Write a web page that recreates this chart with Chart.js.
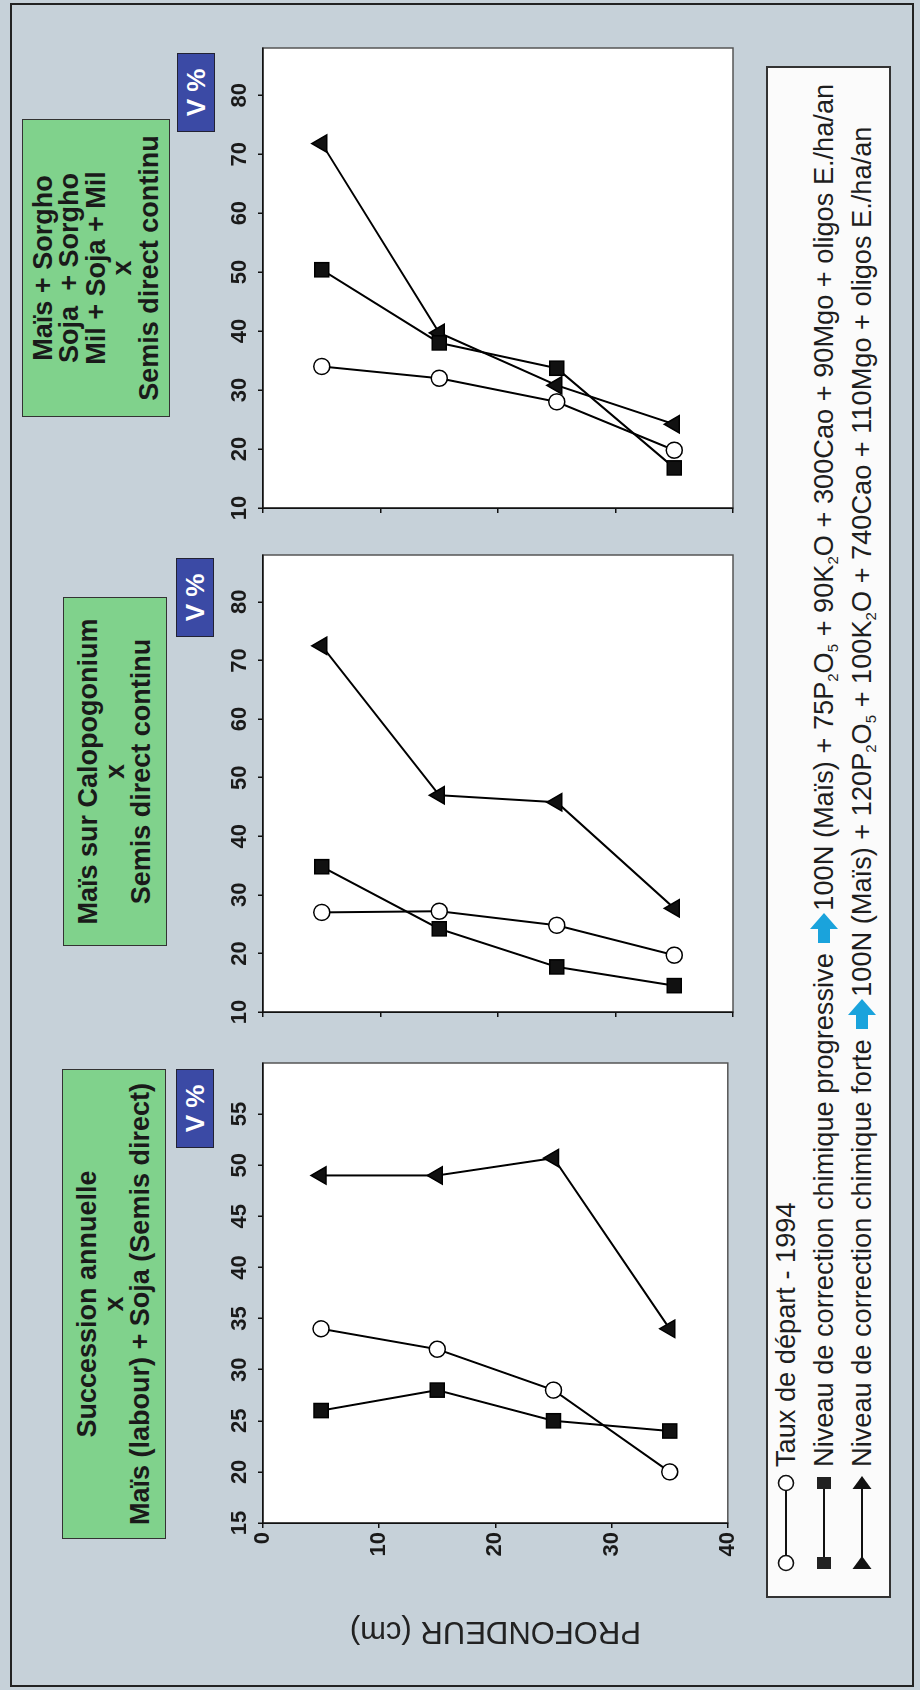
<!DOCTYPE html>
<html>
<head>
<meta charset="utf-8">
<script src="https://cdn.jsdelivr.net/npm/chart.js@4.4.1/dist/chart.umd.min.js"></script>
<style>
  html, body { margin: 0; padding: 0; background: #c6d1d9; }
  body { width: 920px; height: 1690px; overflow: hidden; position: relative;
         font-family: "Liberation Sans", Arial, sans-serif; }
  /* the figure is laid out in landscape and turned a quarter turn counter-clockwise */
  #sheet { position: absolute; left: 0; top: 0; width: 1690px; height: 920px;
           transform-origin: 0 0; transform: translateY(1690px) rotate(-90deg); }
  .frame { position: absolute; left: 3px; top: 10px; width: 1684px; height: 904px;
           box-sizing: border-box; border: 2px solid #222; }
  .title-box { position: absolute; box-sizing: border-box; background: #80d28c;
               border: 1.5px solid #333; display: flex; align-items: center; justify-content: center;
               text-align: center; font-weight: bold; font-size: 27px; line-height: 26.5px;
               color: #1a1a1a; white-space: pre; }
  .v-box { position: absolute; box-sizing: border-box; background: #3b4aa5; border: 1px solid #223;
           color: #fff; font-weight: bold; font-size: 26px; display: flex; align-items: center;
           justify-content: center; }
  canvas { position: absolute; }
  .legend { position: absolute; box-sizing: border-box; background: #fbfbfb; border: 2px solid #333; }
  .lg-row { position: absolute; left: 0; height: 36px; width: 100%; }
  .lg-row svg.sym { position: absolute; left: 23px; top: 0; }
  .lg-text { position: absolute; left: 129px; top: 0; height: 36px; line-height: 36px;
             font-size: 27.2px; color: #1e1e1e; white-space: nowrap; }
  .lg-text sub { font-size: 15px; vertical-align: -5px; line-height: 0; }
  .arrow { vertical-align: -6px; margin: 0 2px 0 3px; }
</style>
</head>
<body>
<div id="sheet">
  <div class="frame"></div>

  <div class="title-box" style="left:151px;top:62px;width:470px;height:104px">Succession annuelle
x
Maïs (labour) + Soja (Semis direct)</div>
  <div class="title-box" style="left:744px;top:63px;width:349px;height:104px">Maïs sur Calopogonium
x
Semis direct continu</div>
  <div class="title-box" style="left:1273px;top:22px;width:298px;height:148px">Maïs + Sorgho
Soja  + Sorgho
Mil + Soja + Mil
x
Semis direct continu</div>

  <div class="v-box" style="left:542px;top:176px;width:79px;height:38px">V %</div>
  <div class="v-box" style="left:1053px;top:176px;width:79px;height:38px">V %</div>
  <div class="v-box" style="left:1558px;top:177px;width:79px;height:38px">V %</div>

  <canvas id="c1"></canvas>
  <canvas id="c2"></canvas>
  <canvas id="c3"></canvas>

  <div class="legend" id="legend" style="left:92px;top:766px;width:1532px;height:125px"></div>
</div>

<script>
// Depth of each soil layer sampled (cm)
const depthCm = [5, 15, 25, 35];
const depthTicks = [0, 10, 20, 30, 40];

const seriesNames = [
  'Taux de départ - 1994',
  'Niveau de correction chimique progressive',
  'Niveau de correction chimique forte'
];
const doseProgressive = '100N (Maïs) + 75P<sub>2</sub>O<sub>5</sub> + 90K<sub>2</sub>O + 300Cao + 90Mgo + oligos E./ha/an';
const doseForte = '100N (Maïs) + 120P<sub>2</sub>O<sub>5</sub> + 100K<sub>2</sub>O + 740Cao + 110Mgo + oligos E./ha/an';

// V % – Succession annuelle x Maïs (labour) + Soja (Semis direct)
const succDepart      = [34, 32, 28, 20];
const succProgressive = [26, 28, 25, 24];
const succForte       = [49, 49, 50.7, 34];
const vTicksSucc      = [15, 20, 25, 30, 35, 40, 45, 50, 55];

// V % – Maïs sur Calopogonium x Semis direct continu
const caloDepart      = [27, 27.2, 24.8, 19.7];
const caloProgressive = [34.8, 24.2, 17.7, 14.5];
const caloForte       = [72.5, 47, 45.8, 27.7];

// V % – Maïs + Sorgho / Soja + Sorgho / Mil + Soja + Mil x Semis direct continu
const sorgDepart      = [34, 32, 28, 19.8];
const sorgProgressive = [50.4, 38, 33.7, 16.8];
const sorgForte       = [71.8, 39.7, 30.8, 24.2];
const vTicksOther     = [10, 20, 30, 40, 50, 60, 70, 80];

const FONT = '"Liberation Sans", Arial, sans-serif';

// white plotting area with a thin outline
const plotFrame = {
  id: 'plotFrame',
  beforeDraw(chart) {
    const a = chart.chartArea, ctx = chart.ctx;
    ctx.save();
    ctx.fillStyle = '#ffffff';
    ctx.fillRect(a.left, a.top, a.right - a.left, a.bottom - a.top);
    ctx.strokeStyle = '#555';
    ctx.lineWidth = 1.5;
    ctx.strokeRect(a.left, a.top, a.right - a.left, a.bottom - a.top);
    ctx.restore();
  }
};

function series(values, style) {
  const base = {
    data: depthCm.map((d, i) => ({ x: values[i], y: d })),
    showLine: true,
    borderColor: '#000',
    borderWidth: 2,
    pointBorderColor: '#000',
    pointBorderWidth: 1.5
  };
  if (style === 'circle') return Object.assign(base, { pointStyle: 'circle', pointRadius: 8, pointBackgroundColor: '#fff' });
  if (style === 'rect') return Object.assign(base, { pointStyle: 'rect', pointRadius: 10, pointBackgroundColor: '#111' });
  return Object.assign(base, { pointStyle: 'triangle', pointRadius: 10, pointBackgroundColor: '#111' });
}

function buildChart(id, plotLeft, plotRight, vals, vMin, vMax, vTicks, withLabels) {
  const axisW = withLabels ? 130 : 30;
  const top = 200, plotTop = 263, plotBottom = 733, padR = 12, padB = 12;
  const cv = document.getElementById(id);
  cv.width = plotRight - plotLeft + axisW + padR;
  cv.height = plotBottom - top + padB;
  cv.style.left = (plotLeft - axisW) + 'px';
  cv.style.top = top + 'px';

  const axisLine = { display: true, color: '#111', width: 1.5 };
  const grid = { drawOnChartArea: false, drawTicks: true, tickLength: 5, color: '#111', lineWidth: 1.5 };

  new Chart(cv, {
    type: 'scatter',
    data: {
      datasets: [
        Object.assign(series(vals[0], 'circle'), { label: seriesNames[0] }),
        Object.assign(series(vals[1], 'rect'), { label: seriesNames[1] }),
        Object.assign(series(vals[2], 'triangle'), { label: seriesNames[2] })
      ]
    },
    options: {
      responsive: false,
      animation: false,
      devicePixelRatio: 1,
      layout: { padding: { top: 0, left: 0, right: padR, bottom: padB } },
      plugins: { legend: { display: false }, tooltip: { enabled: false } },
      scales: {
        x: {
          type: 'linear', position: 'top', min: vMin, max: vMax,
          afterBuildTicks: s => { s.ticks = vTicks.map(v => ({ value: v })); },
          afterFit: s => { s.height = plotTop - top; },
          grid: grid, border: axisLine,
          ticks: { autoSkip: false, maxRotation: 0, padding: 5, color: '#1a1a1a',
                   font: { family: FONT, size: 22, weight: 'bold' } }
        },
        y: {
          type: 'linear', position: 'left', reverse: true, min: 0, max: 40,
          afterBuildTicks: s => { s.ticks = depthTicks.map(v => ({ value: v })); },
          afterFit: s => { s.width = axisW; },
          grid: grid, border: axisLine,
          ticks: { display: withLabels, autoSkip: false, padding: 4, color: '#1a1a1a',
                   font: { family: FONT, size: 22, weight: 'bold' } },
          title: { display: withLabels, text: 'PROFONDEUR (cm)', color: '#222',
                   font: { family: FONT, size: 31 }, padding: { top: 4, bottom: 4 } }
        }
      }
    },
    plugins: [plotFrame]
  });
}

buildChart('c1', 167, 627, [succDepart, succProgressive, succForte], 15, 60, vTicksSucc, true);
buildChart('c2', 678, 1135, [caloDepart, caloProgressive, caloForte], 10, 88, vTicksOther, false);
buildChart('c3', 1182, 1642, [sorgDepart, sorgProgressive, sorgForte], 10, 88, vTicksOther, false);

// legend rows: marker - line - marker, then the label
const arrowSvg = '<svg class="arrow" width="30" height="30" viewBox="0 0 30 30"><path d="M0 9 H14 V1 L30 15 L14 29 V21 H0 Z" fill="#1aa3dc"/></svg>';
function symbolSvg(kind) {
  let m = '';
  [10, 90].forEach(cx => {
    if (kind === 'circle') m += `<circle cx="${cx}" cy="18" r="7.5" fill="#fff" stroke="#111" stroke-width="1.6"/>`;
    else if (kind === 'rect') m += `<rect x="${cx - 6}" y="11" width="12" height="14" fill="#222"/>`;
    else m += `<path d="M${cx - 6} 8.5 L${cx + 7} 18 L${cx - 6} 27.5 Z" fill="#111"/>`;
  });
  return `<svg class="sym" width="110" height="36"><line x1="10" y1="18" x2="90" y2="18" stroke="#111" stroke-width="2"/>${m}</svg>`;
}
const legendRows = [
  { top: 0, kind: 'circle', html: seriesNames[0] },
  { top: 38, kind: 'rect', html: seriesNames[1] + ' ' + arrowSvg + doseProgressive },
  { top: 76, kind: 'triangle', html: seriesNames[2] + ' ' + arrowSvg + doseForte }
];
const legend = document.getElementById('legend');
legendRows.forEach(r => {
  const row = document.createElement('div');
  row.className = 'lg-row';
  row.style.top = r.top + 'px';
  row.innerHTML = symbolSvg(r.kind) + `<div class="lg-text">${r.html}</div>`;
  legend.appendChild(row);
});
</script>
</body>
</html>
